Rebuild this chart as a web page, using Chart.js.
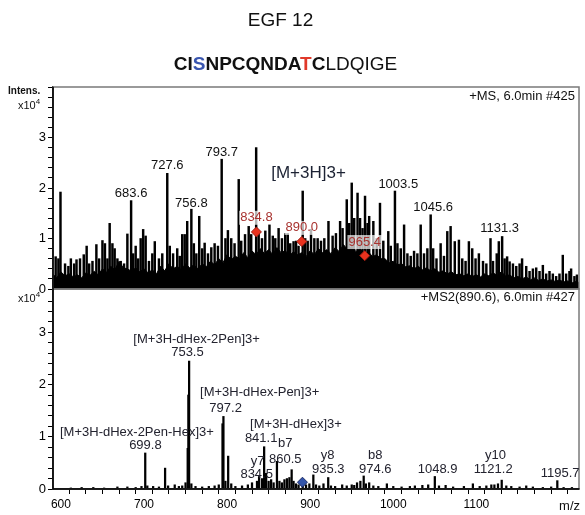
<!DOCTYPE html>
<html lang="en">
<head>
    <meta charset="UTF-8">
    <title>EGF 12 MS / MS2 spectra</title>
    <script src="https://cdn.jsdelivr.net/npm/chart.js"></script>
    <style>
        body { margin: 0; background: #fff; font-family: 'Liberation Sans', Arial, sans-serif; }
        .page { position: relative; width: 585px; height: 515px; overflow: hidden; }
        #spec { position: absolute; left: 0; top: 0; }
        .txt { position: absolute; color: #111; white-space: nowrap; }
        .title { left: -12px; width: 585px; top: 9px; text-align: center; font-size: 19px; }
        .seq { left: -7px; width: 585px; top: 53px; text-align: center; font-size: 19px; }
        .seq b { font-weight: bold; }
        .unit { font-size: 11px; }
        .unit sup { font-size: 8px; }
    </style>
</head>
<body>
<div class="page">
    <canvas id="spec" width="585" height="515"></canvas>
    <div class="txt title">EGF 12</div>
    <div class="txt seq"><b>CI</b><b style="color:#3a56b0">S</b><b>NPCQNDA</b><b style="color:#e0392a">T</b><b>C</b>LDQIGE</div>
    <div class="txt unit" style="left:8px; top:85px; font-weight:bold; font-size:10px;">Intens.</div>
    <div class="txt unit" style="left:18px; top:97px;">x10<sup>4</sup></div>
    <div class="txt unit" style="left:18px; top:290px;">x10<sup>4</sup></div>
</div>

<script>
// ---- MS (top) : peaks, m/z and intensity (x10^4)
const topMz = [593.7, 597, 599.5, 605, 609, 612, 616, 618.8, 623, 627.5, 631, 634, 638, 642.7, 646, 650, 653, 656, 658.7, 662,
    664.7, 668, 672, 676, 680, 684.5, 687, 690, 693, 696, 699, 702, 706, 710, 713, 718, 722, 728, 731, 735,
    740, 743, 746, 749, 752, 757, 760, 763, 766.5, 770, 773, 777, 781, 785, 789, 793.5, 798, 801, 805, 809,
    814, 817, 821.6, 826, 829, 835, 838, 842, 846, 851, 855, 858, 862, 866, 870, 873, 876, 880, 883, 886,
    891, 894, 897, 901, 905, 909, 913, 917, 922, 927, 931, 936, 939, 944, 947, 950, 953, 957, 960, 963,
    966, 969, 971, 976, 980, 984, 988, 994, 997, 1002, 1005, 1009, 1013, 1017, 1021, 1025, 1029, 1033, 1037, 1041,
    1045, 1048, 1052, 1057, 1061, 1065, 1069, 1074, 1079, 1083, 1087, 1091, 1095, 1099, 1103, 1108, 1112, 1117, 1120, 1124.5,
    1127, 1131, 1134, 1137, 1140, 1144, 1148, 1152, 1155, 1160, 1164, 1168, 1172, 1176, 1180, 1184, 1188, 1192, 1196, 1200,
    1204, 1208, 1212, 1214, 1218, 1221];
const topInt = [0.64, 0.6, 1.92, 0.5, 0.45, 0.6, 0.5, 0.58, 0.6, 0.68, 0.85, 0.5, 0.55, 0.88, 0.6, 0.96, 0.9, 0.6, 1.3, 0.9,
    0.8, 0.6, 0.55, 0.5, 1.09, 1.75, 0.7, 0.85, 0.6, 1.0, 1.18, 1.05, 0.55, 0.7, 0.94, 0.6, 0.7, 2.29, 0.85, 0.7,
    0.8, 0.65, 1.08, 1.08, 1.34, 1.58, 0.9, 0.7, 1.44, 0.8, 0.91, 0.7, 0.82, 0.9, 0.85, 2.57, 1.0, 1.16, 1.0, 0.9,
    2.17, 0.95, 1.08, 1.24, 1.08, 2.8, 1.1, 1.0, 1.15, 1.28, 1.05, 1.0, 1.2, 1.0, 1.1, 1.1, 0.9, 0.94, 0.95, 0.85,
    1.94, 1.0, 0.95, 1.18, 1.0, 1.0, 0.95, 1.0, 1.34, 1.05, 1.1, 1.34, 1.2, 1.77, 1.3, 2.1, 1.4, 1.9, 1.4, 1.2,
    1.84, 1.3, 1.44, 1.34, 1.0, 1.7, 0.95, 1.14, 0.85, 1.94, 0.9, 0.8, 1.27, 0.7, 0.65, 0.75, 0.7, 1.27, 0.7, 0.8,
    1.47, 0.8, 0.6, 0.9, 0.65, 1.14, 1.24, 0.94, 0.97, 0.6, 0.55, 0.94, 0.8, 0.6, 0.7, 0.55, 0.5, 1.0, 0.55, 0.7,
    0.94, 1.04, 0.6, 0.64, 0.54, 0.5, 0.45, 0.5, 0.6, 0.45, 0.35, 0.4, 0.42, 0.35, 0.47, 0.3, 0.35, 0.3, 0.25, 0.3,
    0.67, 0.3, 0.35, 0.4, 0.25, 0.28];

// dense chemical noise under the MS peaks
const noiseMz = [590, 595, 600, 605, 610, 615, 620, 625, 630, 635, 640, 645, 650, 655, 660, 665, 670, 675, 680, 685,
    690, 695, 700, 705, 710, 715, 720, 725, 730, 735, 740, 745, 750, 755, 760, 765, 770, 775, 780, 785,
    790, 795, 800, 805, 810, 815, 820, 825, 830, 835, 840, 845, 850, 855, 860, 865, 870, 875, 880, 885,
    890, 895, 900, 905, 910, 915, 920, 925, 930, 935, 940, 945, 950, 955, 960, 965, 970, 975, 980, 985,
    990, 995, 1000, 1005, 1010, 1015, 1020, 1025, 1030, 1035, 1040, 1045, 1050, 1055, 1060, 1065, 1070, 1075, 1080, 1085,
    1090, 1095, 1100, 1105, 1110, 1115, 1120, 1125, 1130, 1135, 1140, 1145, 1150, 1155, 1160, 1165, 1170, 1175, 1180, 1185,
    1190, 1195, 1200, 1205, 1210, 1215, 1220, 1225];
const noiseInt = [0.30, 0.22, 0.34, 0.26, 0.30, 0.24, 0.28, 0.22, 0.32, 0.27, 0.35, 0.28, 0.40, 0.33, 0.45, 0.38, 0.55, 0.42, 0.40, 0.35,
    0.42, 0.34, 0.40, 0.32, 0.38, 0.30, 0.45, 0.36, 0.50, 0.40, 0.45, 0.38, 0.50, 0.42, 0.48, 0.40, 0.50, 0.44, 0.55, 0.48,
    0.60, 0.52, 0.68, 0.58, 0.65, 0.60, 0.72, 0.62, 0.75, 0.68, 0.80, 0.70, 0.78, 0.68, 0.82, 0.72, 0.76, 0.66, 0.74, 0.68,
    0.72, 0.64, 0.76, 0.68, 0.80, 0.72, 0.78, 0.70, 0.82, 0.74, 0.88, 0.78, 0.84, 0.74, 0.80, 0.70, 0.74, 0.64, 0.68, 0.60,
    0.60, 0.52, 0.55, 0.48, 0.50, 0.44, 0.46, 0.40, 0.45, 0.38, 0.42, 0.36, 0.40, 0.33, 0.36, 0.30, 0.34, 0.28, 0.30, 0.26,
    0.30, 0.25, 0.28, 0.24, 0.30, 0.26, 0.32, 0.27, 0.34, 0.26, 0.28, 0.22, 0.25, 0.20, 0.24, 0.18, 0.22, 0.17, 0.20, 0.16,
    0.18, 0.15, 0.18, 0.14, 0.16, 0.12, 0.15, 0.12];

// precursor candidates (red diamonds)
const topMarkMz = [835.3, 889.9, 965.6];
const topMarkInt = [1.13, 0.94, 0.66];
const topMarkText = ['834.8', '890.0', '965.4'];
const topMarkTextAt = [1.41, 1.21, 0.93];

// labels on MS panel
const topLabelText = ['683.6', '727.6', '756.8', '793.7', '1003.5', '1045.6', '1131.3'];
const topLabelMz = [684.5, 728, 757, 793.5, 1006, 1048, 1128];
const topLabelAt = [1.89, 2.44, 1.69, 2.71, 2.07, 1.61, 1.19];
const ionText = '[M+3H]3+';
const ionMz = 898;
const ionAt = 2.3;

// ---- MS2 (bottom)
const botMz = [612, 625, 639, 652, 668, 680, 690, 697, 701.5, 704, 711, 718, 725.4, 729, 737, 742, 746, 750, 752.6, 753.4,
    754.3, 757, 762, 770, 778, 785, 790, 794.5, 795.6, 798, 801.3, 805, 810, 818, 825, 830, 836, 838.5, 842, 844.6,
    847, 850, 853, 856, 860, 863, 866, 869, 872, 875, 877.7, 880, 883, 886, 891, 895, 899, 903.8, 907, 911,
    916, 921.7, 925, 930, 938.5, 944, 950, 953, 956.4, 960.4, 964.4, 967, 971, 976, 982, 992.3, 1000, 1010, 1020, 1026,
    1035, 1042, 1050, 1055, 1063, 1072, 1085, 1095.8, 1104, 1112, 1118, 1121.7, 1126, 1130.5, 1136, 1142, 1152, 1160, 1168, 1180,
    1190, 1197.4, 1205, 1215];
const botInt = [0.02, 0.03, 0.03, 0.02, 0.04, 0.04, 0.03, 0.05, 0.69, 0.06, 0.05, 0.04, 0.40, 0.06, 0.08, 0.05, 0.06, 0.12, 0.78, 1.80,
    2.45, 0.10, 0.05, 0.04, 0.05, 0.06, 0.08, 1.25, 1.39, 0.15, 0.63, 0.10, 0.05, 0.06, 0.08, 0.12, 0.15, 0.24, 0.20, 0.81,
    0.30, 0.15, 0.18, 0.12, 0.53, 0.15, 0.12, 0.18, 0.20, 0.22, 0.37, 0.15, 0.10, 0.08, 0.06, 0.08, 0.10, 0.27, 0.08, 0.06,
    0.10, 0.22, 0.06, 0.05, 0.08, 0.06, 0.08, 0.07, 0.12, 0.15, 0.25, 0.10, 0.12, 0.06, 0.05, 0.10, 0.05, 0.04, 0.05, 0.06,
    0.07, 0.08, 0.24, 0.06, 0.07, 0.04, 0.05, 0.10, 0.05, 0.06, 0.08, 0.08, 0.10, 0.17, 0.06, 0.05, 0.04, 0.06, 0.04, 0.03,
    0.04, 0.16, 0.03, 0.03];

const botMarkMz = [890.7];
const botMarkInt = [0.13];

const botLabelText = ['[M+3H-dHex-2Pen]3+', '753.5', '[M+3H-dHex-Pen]3+', '797.2', '[M+3H-dHex]3+', '841.1',
    'b7', '860.5', '[M+3H-dHex-2Pen-Hex]3+', '699.8', 'y7', '834.5', 'y8', '935.3', 'b8', '974.6',
    '1048.9', 'y10', '1121.2', '1195.7'];
const botLabelMz = [763.3, 752.3, 839.2, 798.2, 882.9, 841, 870, 870, 691.5, 701.7, 836.8, 835.6, 921, 921.8, 978.3, 978.3,
    1053.3, 1123.1, 1120.3, 1200.8];
const botLabelAt = [2.87, 2.61, 1.84, 1.54, 1.23, 0.96, 0.88, 0.57, 1.08, 0.83, 0.53, 0.27, 0.65, 0.38, 0.65, 0.38,
    0.38, 0.65, 0.38, 0.3];

const xMin = 590.5, xMax = 1223.5;

function pts(xs, ys) {
    return xs.map((x, i) => ({ x: x, y: ys[i] }));
}

const FONT = "'Liberation Sans', Arial, sans-serif";
Chart.defaults.font.family = FONT;
Chart.defaults.color = '#000';

function yTicks(v) {
    const r = Math.round(v);
    if (Math.abs(v - r) < 1e-6 && r <= 3) return String(r);
    return '';
}

const decor = {
    id: 'decor',
    afterDraw(chart) {
        const ctx = chart.ctx;
        const x = chart.scales.x, yt = chart.scales.yTop, yb = chart.scales.yBot;
        const a = chart.chartArea;
        ctx.save();
        // panel frames
        ctx.strokeStyle = '#7a7a7a';
        ctx.lineWidth = 1.5;
        ctx.strokeRect(a.left, yt.top, a.right - a.left, yt.bottom - yt.top);
        ctx.strokeRect(a.left, yb.top, a.right - a.left, yb.bottom - yb.top);
        ctx.strokeStyle = '#000';
        ctx.beginPath();
        ctx.moveTo(a.left, yt.top); ctx.lineTo(a.left, yb.bottom); ctx.lineTo(a.right, yb.bottom);
        ctx.stroke();

        ctx.textBaseline = 'middle';
        // spectrum headers
        ctx.font = '13px ' + FONT;
        ctx.fillStyle = '#111';
        ctx.textAlign = 'right';
        ctx.fillText('+MS, 6.0min #425', a.right - 4, yt.top + 9);
        ctx.fillText('+MS2(890.6), 6.0min #427', a.right - 4, yb.top + 8);
        ctx.fillText('m/z', a.right + 1, x.top + 17);

        ctx.textAlign = 'center';
        // MS labels
        ctx.font = '13px ' + FONT;
        topLabelText.forEach((t, i) => {
            ctx.fillText(t, x.getPixelForValue(topLabelMz[i]), yt.getPixelForValue(topLabelAt[i]));
        });
        ctx.font = '17px ' + FONT;
        ctx.fillStyle = '#1c2233';
        ctx.fillText(ionText, x.getPixelForValue(ionMz), yt.getPixelForValue(ionAt));
        ctx.font = '13px ' + FONT;
        topMarkText.forEach((t, i) => {
            const px = x.getPixelForValue(topMarkMz[i]);
            const py = yt.getPixelForValue(topMarkTextAt[i]);
            const w = ctx.measureText(t).width;
            ctx.fillStyle = 'rgba(255,255,255,0.7)';
            ctx.fillRect(px - w / 2 - 1, py - 7, w + 2, 14);
            ctx.fillStyle = '#a8322f';
            ctx.fillText(t, px, py);
        });
        // MS2 labels
        ctx.fillStyle = '#23232f';
        botLabelText.forEach((t, i) => {
            ctx.fillText(t, x.getPixelForValue(botLabelMz[i]), yb.getPixelForValue(botLabelAt[i]));
        });
        ctx.restore();
    }
};

const axisGrid = { drawOnChartArea: false, drawTicks: true, tickLength: 5, color: '#000', lineWidth: 1 };

new Chart(document.getElementById('spec'), {
    type: 'bar',
    data: {
        datasets: [
            {
                type: 'line',
                data: pts(noiseMz, noiseInt),
                yAxisID: 'yTop',
                borderColor: '#000',
                backgroundColor: '#000',
                borderWidth: 1,
                pointRadius: 0,
                tension: 0,
                fill: 'origin',
                order: 3
            },
            {
                data: pts(topMz, topInt),
                yAxisID: 'yTop',
                backgroundColor: '#000',
                barThickness: 1.8,
                grouped: false,
                order: 2
            },
            {
                data: pts(botMz, botInt),
                yAxisID: 'yBot',
                backgroundColor: '#000',
                barThickness: 1.6,
                grouped: false,
                order: 2
            },
            {
                type: 'line',
                data: pts(topMarkMz, topMarkInt),
                yAxisID: 'yTop',
                showLine: false,
                pointStyle: 'rectRot',
                pointRadius: 5,
                backgroundColor: '#e8321e',
                borderColor: '#9a1a10',
                borderWidth: 1,
                order: 0
            },
            {
                type: 'line',
                data: pts(botMarkMz, botMarkInt),
                yAxisID: 'yBot',
                showLine: false,
                pointStyle: 'rectRot',
                pointRadius: 5,
                backgroundColor: '#3355aa',
                borderColor: '#1a2a66',
                borderWidth: 1,
                order: 0
            }
        ]
    },
    options: {
        responsive: false,
        animation: false,
        events: [],
        layout: { padding: { top: 87, right: 3, left: 0, bottom: 0 } },
        plugins: { legend: { display: false }, tooltip: { enabled: false } },
        scales: {
            x: {
                type: 'linear',
                min: xMin,
                max: xMax,
                offset: false,
                grid: axisGrid,
                border: { color: '#000', width: 1.5 },
                ticks: {
                    stepSize: 20,
                    includeBounds: false,
                    autoSkip: false,
                    maxRotation: 0,
                    padding: 3,
                    font: { size: 12 },
                    callback: v => (v % 100 === 0 && v <= 1100 ? String(v) : '')
                },
                afterFit: s => { s.height = 26; }
            },
            // stacked scales are placed bottom-up in definition order
            yBot: {
                type: 'linear',
                position: 'left',
                stack: 'ms',
                stackWeight: 199,
                min: 0,
                max: 3.83,
                grid: axisGrid,
                border: { color: '#000', width: 1.5 },
                ticks: { stepSize: 0.2, autoSkip: false, padding: 2, font: { size: 13 }, callback: yTicks },
                afterFit: s => { s.width = 53; }
            },
            yTop: {
                type: 'linear',
                position: 'left',
                stack: 'ms',
                stackWeight: 201,
                min: 0,
                max: 4,
                grid: axisGrid,
                border: { color: '#000', width: 1.5 },
                ticks: { stepSize: 0.2, autoSkip: false, padding: 2, font: { size: 13 }, callback: yTicks },
                afterFit: s => { s.width = 53; }
            }
        }
    },
    plugins: [decor]
});
</script>
</body>
</html>
